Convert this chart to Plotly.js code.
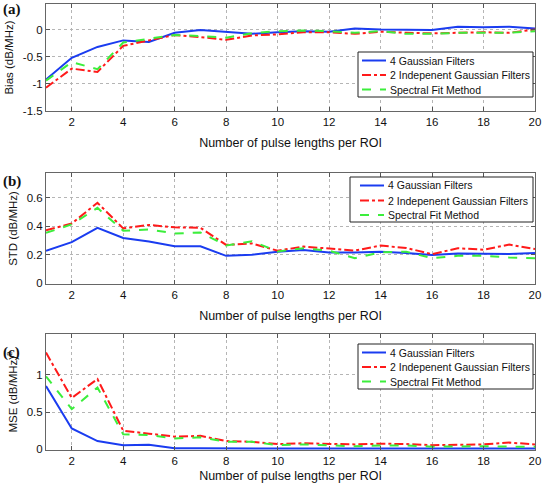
<!DOCTYPE html>
<html><head><meta charset="utf-8">
<script src="https://cdn.plot.ly/plotly-3.0.1.min.js"></script>
<style>html,body{margin:0;padding:0;background:#fff;}#chart{width:543px;height:483px;}</style>
</head><body><div id="chart"></div>
<script>
const xVals = [1,2,3,4,5,6,7,8,9,10,11,12,13,14,15,16,17,18,19,20];
const seriesNames = ["4 Gaussian Filters","2 Indepenent Gaussian Filters","Spectral Fit Method"];

const biasGauss4 = [-0.92,-0.52,-0.32,-0.2,-0.23,-0.06,-0.01,-0.05,-0.08,-0.05,-0.03,-0.04,0.02,0.0,0.0,-0.01,0.05,0.04,0.05,0.02];
const biasGauss2 = [-1.07,-0.72,-0.78,-0.3,-0.2,-0.1,-0.14,-0.19,-0.11,-0.09,-0.05,-0.05,-0.08,-0.04,-0.06,-0.07,-0.06,-0.05,-0.06,0.0];
const biasSpectral = [-0.94,-0.6,-0.73,-0.24,-0.17,-0.1,-0.12,-0.15,-0.07,-0.03,-0.02,-0.03,-0.06,-0.03,-0.08,-0.08,-0.06,-0.06,-0.06,-0.03];

const stdGauss4 = [0.229,0.289,0.39,0.318,0.294,0.26,0.26,0.193,0.2,0.222,0.234,0.217,0.217,0.222,0.212,0.198,0.21,0.207,0.205,0.212];
const stdGauss2 = [0.373,0.42,0.566,0.386,0.41,0.393,0.39,0.27,0.28,0.229,0.258,0.246,0.23,0.265,0.248,0.205,0.246,0.236,0.272,0.24];
const stdSpectral = [0.354,0.414,0.53,0.369,0.378,0.35,0.357,0.265,0.296,0.224,0.246,0.229,0.176,0.217,0.222,0.176,0.193,0.193,0.181,0.176];

const mseGauss4 = [0.85,0.28,0.11,0.055,0.06,0.015,0.012,0.012,0.02,0.012,0.01,0.01,0.01,0.01,0.01,0.01,0.01,0.01,0.01,0.01];
const mseGauss2 = [1.3,0.69,0.945,0.25,0.21,0.17,0.18,0.11,0.1,0.07,0.08,0.075,0.065,0.075,0.07,0.055,0.065,0.065,0.09,0.065];
const mseSpectral = [0.98,0.54,0.83,0.2,0.19,0.145,0.16,0.1,0.1,0.055,0.065,0.055,0.04,0.05,0.05,0.035,0.04,0.04,0.035,0.035];

const xTicks = [2,4,6,8,10,12,14,16,18,20];
const biasTicks = [-1.5,-1,-0.5,0];
const biasTickText = ["-1.5","-1","-0.5","0"];
const stdTicks = [0,0.2,0.4,0.6];
const stdTickText = ["0","0.2","0.4","0.6"];
const mseTicks = [0,0.5,1];
const mseTickText = ["0","0.5","1"];

const FONT = "Liberation Sans, Arial, sans-serif";
const styles = [
  {color:"#1a3cf0", dash:"solid", width:2},
  {color:"#ff1a1a", dash:"dashdot", width:2},
  {color:"#3cee3c", dash:"dash", width:2}
];

function mk(y, i, xa, ya){
  return {x:xVals, y:y, type:"scatter", mode:"lines", name:seriesNames[i],
    line:styles[i], xaxis:xa, yaxis:ya, showlegend:false};
}
const traces = [
  mk(biasGauss4,0,"x","y"), mk(biasGauss2,1,"x","y"), mk(biasSpectral,2,"x","y"),
  mk(stdGauss4,0,"x2","y2"), mk(stdGauss2,1,"x2","y2"), mk(stdSpectral,2,"x2","y2"),
  mk(mseGauss4,0,"x3","y3"), mk(mseGauss2,1,"x3","y3"), mk(mseSpectral,2,"x3","y3")
];

const H = 483, L = 46, PW = 489;
const px = v => (v - L) / PW;
const py = v => 1 - v / H;
function dom(topPx, botPx){ return [py(botPx), py(topPx)]; }
function xax(anchor){
  return {anchor:anchor, domain:[0,1], range:[1,20], tickvals:xTicks, ticks:"inside", ticklen:4,
    tickcolor:"#555", showline:true, mirror:"ticks", linecolor:"#666", linewidth:1,
    showgrid:true, gridcolor:"#b5b5b5", griddash:"dot", gridwidth:1, zeroline:false,
    tickfont:{family:FONT,size:11.5,color:"#111"},
    title:{text:"Number of pulse lengths per ROI", font:{family:FONT,size:12.5,color:"#111"}, standoff:11}};
}
function yax(anchor, d, range, tv, tt, title){
  return {anchor:anchor, domain:d, range:range, tickvals:tv, ticktext:tt, ticks:"inside", ticklen:4,
    tickcolor:"#555", showline:true, mirror:"ticks", linecolor:"#666", linewidth:1,
    showgrid:true, gridcolor:"#b5b5b5", griddash:"dot", gridwidth:1, zeroline:false,
    tickfont:{family:FONT,size:11.5,color:"#111"},
    title:{text:title, font:{family:FONT,size:11.5,color:"#111"}, standoff:6}};
}

// custom legend boxes (pixel layout): box left, right, top, bottom, row centres, line start/end, text start
const legendBoxes = [
  {l:358, r:533, t:52, b:97, rows:[60.5,75,89.5], ls:362, le:386, tx:388},
  {l:350, r:533, t:177, b:222, rows:[185.5,200.5,215], ls:360, le:384, tx:386},
  {l:358, r:533, t:344, b:389, rows:[352.5,367,381.5], ls:362, le:386, tx:388}
];
const shapes = [], annotations = [];
legendBoxes.forEach(bx => {
  shapes.push({type:"rect", xref:"paper", yref:"paper", x0:px(bx.l), x1:px(bx.r), y0:py(bx.b), y1:py(bx.t),
    fillcolor:"#fff", line:{color:"#222", width:1}, layer:"above"});
  seriesNames.forEach((nm, i) => {
    shapes.push({type:"line", xref:"paper", yref:"paper", x0:px(bx.ls), x1:px(bx.le), y0:py(bx.rows[i]), y1:py(bx.rows[i]),
      line:{color:styles[i].color, width:2, dash:styles[i].dash}, layer:"above"});
    annotations.push({text:nm, xref:"paper", yref:"paper", x:px(bx.tx), y:py(bx.rows[i]), xanchor:"left", yanchor:"middle",
      showarrow:false, font:{family:FONT, size:10.5, color:"#111"}});
  });
});
const panelLabels = ["(a)","(b)","(c)"];
const panelLabelY = [10, 181, 352];
panelLabels.forEach((t, i) => annotations.push({text:"<b>"+t+"</b>", x:px(1), y:py(panelLabelY[i]), xref:"paper", yref:"paper",
  xanchor:"left", yanchor:"middle", showarrow:false, font:{family:"Liberation Serif, Times New Roman, serif", size:15, color:"#111"}}));

const layout = {
  width:543, height:483, margin:{l:L,r:8,t:0,b:0}, paper_bgcolor:"#fff", plot_bgcolor:"#fff",
  showlegend:false,
  xaxis:xax("y"), xaxis2:xax("y2"), xaxis3:xax("y3"),
  yaxis:yax("x", dom(4,111), [-1.5,0.47], biasTicks, biasTickText, "Bias (dB/MHz)"),
  yaxis2:yax("x2", dom(173,284), [-0.005,0.775], stdTicks, stdTickText, "STD (dB/MHz)"),
  yaxis3:yax("x3", dom(334,450), [-0.01,1.55], mseTicks, mseTickText, "MSE (dB/MHz)<sup>2</sup>"),
  shapes:shapes, annotations:annotations
};
Plotly.newPlot("chart", traces, layout, {staticPlot:true, displayModeBar:false});
</script>
</body></html>
